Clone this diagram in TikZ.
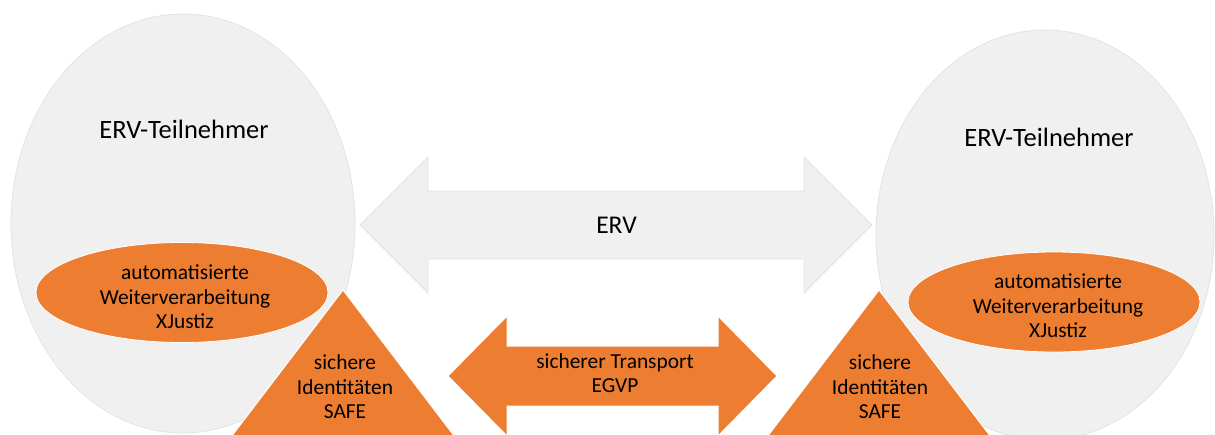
\documentclass[tikz,border=0pt]{standalone}
\usepackage{fontspec}
\setmainfont{Carlito}
\usetikzlibrary{shapes.geometric}
\definecolor{ervgrey}{HTML}{F0F0F0}
\definecolor{ervline}{HTML}{E3E3E3}
\definecolor{ervorange}{HTML}{ED7D31}

\begin{document}
\begin{tikzpicture}[x=1pt, y=-1pt,
  egg/.style = {ellipse, fill=ervgrey, draw=ervline, line width=0.8pt, inner sep=0},
  oval/.style = {ellipse, fill=ervorange, draw=white, line width=0.8pt, inner sep=0, minimum width=292pt, minimum height=100pt},
  big/.style = {font=\fontsize{26.5}{30}\selectfont, anchor=base},
  small/.style = {font=\fontsize{21.4}{24.5}\selectfont, align=center}]
\useasboundingbox (0,0) rectangle (1215,434);
\node[egg, minimum width=344pt, minimum height=419pt] (egg1) at (183,223.5) {};
\node[egg, minimum width=338pt, minimum height=410pt] (egg2) at (1045,235) {};
\fill[ervgrey, draw=ervline, line width=0.8pt] (360,225) -- (428,157) -- (428,191) -- (804,191) -- (804,157) -- (872,225) -- (804,293) -- (804,259) -- (428,259) -- (428,293) -- cycle;
\node[oval] (oval1) at (182,292.5) {};
\node[oval] (oval2) at (1054,302) {};
\fill[ervorange, draw=white, line width=1pt] (343,290) -- (455,437) -- (231,437) -- cycle;
\fill[ervorange, draw=white, line width=1pt] (879,290) -- (991,437) -- (767,437) -- cycle;
\fill[ervorange, draw=white, line width=1pt] (448,376) -- (507,316) -- (507,346) -- (718,346) -- (718,316) -- (777,376) -- (718,436) -- (718,406) -- (507,406) -- (507,436) -- cycle;
\node[big] (who1) at (184,138) {ERV-Teilnehmer};
\node[big] (who2) at (1049,146) {ERV-Teilnehmer};
\node[big, font=\fontsize{25.5}{30}\selectfont] (erv) at (616.5,233) {ERV};
\node[small] (xj1) at (185,297) {automatisierte\\Weiterverarbeitung\\XJustiz};
\node[small] (xj2) at (1058,306) {automatisierte\\Weiterverarbeitung\\XJustiz};
\node[small] (id1) at (345,387) {sichere\\Identitäten\\SAFE};
\node[small] (id2) at (880,387) {sichere\\Identitäten\\SAFE};
\node[small] (egvp) at (615,373) {sicherer Transport\\EGVP};
\end{tikzpicture}
\end{document}
